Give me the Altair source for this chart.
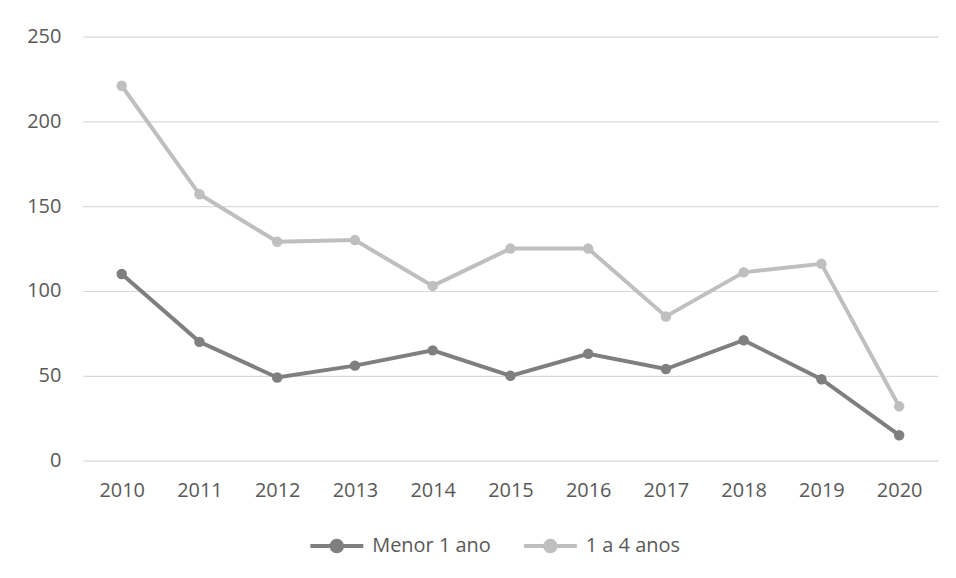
import altair as alt
import pandas as pd

years = ["2010", "2011", "2012", "2013", "2014", "2015", "2016", "2017", "2018", "2019", "2020"]
menor_1_ano = [110, 70, 49, 56, 65, 50, 63, 54, 71, 48, 15]
um_a_4_anos = [221, 157, 129, 130, 103, 125, 125, 85, 111, 116, 32]
series_names = ["Menor 1 ano", "1 a 4 anos"]
series_colors = ["#7f7f7f", "#bfbfbf"]
y_ticks = [0, 50, 100, 150, 200, 250]

rows = []
for name, vals in zip(series_names, [menor_1_ano, um_a_4_anos]):
    for yr, v in zip(years, vals):
        rows.append({"Ano": yr, "Série": name, "Valor": v})
df = pd.DataFrame(rows)

FONT = "Open Sans"
TXT = "#595959"

legend_path = "M-1,0L1,0M0.2,0A0.2,0.2 0 1,1 -0.2,0A0.2,0.2 0 1,1 0.2,0Z"

color = alt.Color(
    "Série:N",
    scale=alt.Scale(domain=series_names, range=series_colors),
    sort=series_names,
    legend=alt.Legend(
        title=None,
        orient="none",
        legendX=226,
        legendY=482,
        direction="horizontal",
        symbolType=legend_path,
        symbolSize=2809,
        symbolStrokeWidth=4,
        labelFont=FONT,
        labelFontSize=20,
        labelColor=TXT,
        labelOffset=7,
        columnPadding=25,
    ),
)

x = alt.X(
    "Ano:O",
    sort=years,
    scale=alt.Scale(type="point", padding=0.5),
    axis=alt.Axis(title=None, labelAngle=0, domain=False, ticks=False, grid=False,
                  labelFont=FONT, labelFontSize=20, labelColor=TXT, labelPadding=20),
)
y = alt.Y(
    "Valor:Q",
    scale=alt.Scale(domain=[0, 250], nice=False),
    axis=alt.Axis(title=None, values=y_ticks, domain=False, ticks=False, grid=True,
                  gridColor="#d9d9d9", gridWidth=1.2,
                  labelFont=FONT, labelFontSize=20, labelColor=TXT, labelPadding=22),
)

base = alt.Chart(df)
lines = base.mark_line(strokeWidth=4).encode(x=x, y=y, color=color, detail="Série:N")
points = base.mark_point(filled=True, size=110, opacity=1).encode(x=x, y=y, color=color)

chart = alt.layer(lines, points).properties(
    width=857,
    height=425,
    autosize=alt.AutoSizeParams(type="none"),
    padding={"left": 75, "top": 28, "right": 10, "bottom": 100},
).configure(background="white", view=alt.ViewConfig(stroke=None))

chart.save("out.html", embed_options={"renderer": "svg", "actions": False})
